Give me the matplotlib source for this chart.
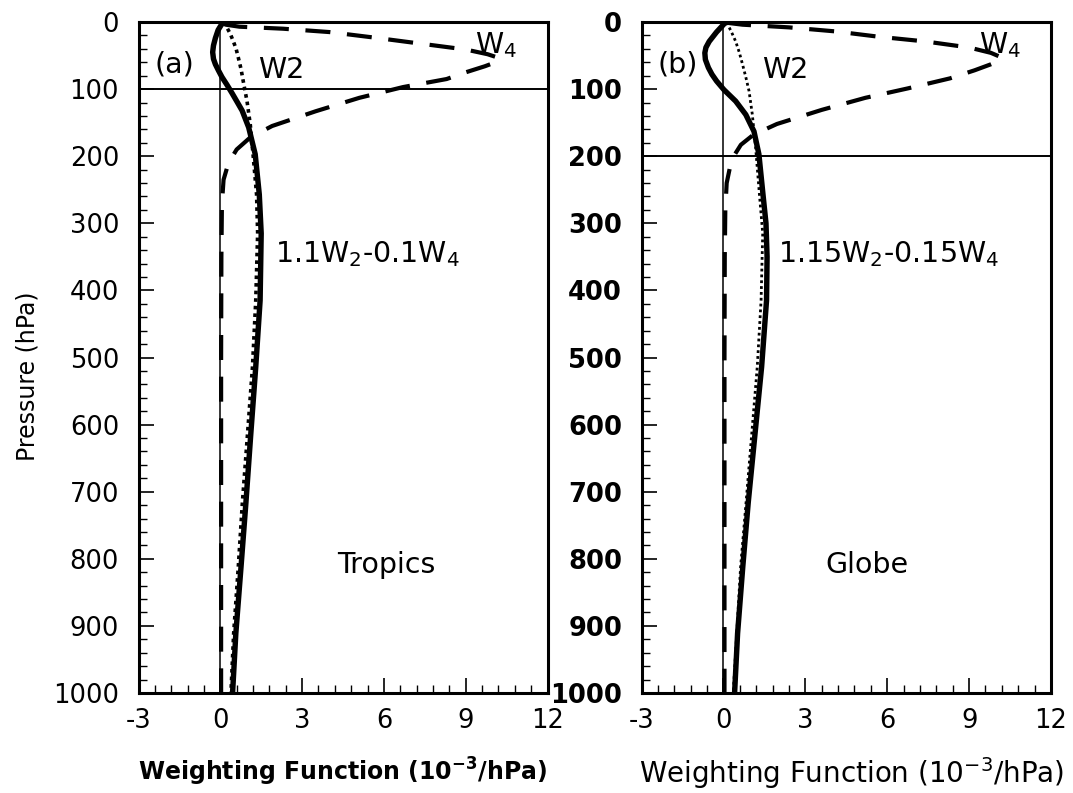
import matplotlib
matplotlib.use('Agg')
import matplotlib.pyplot as plt
from matplotlib.ticker import MultipleLocator

plt.rcParams['font.family'] = ['DejaVu Sans']
plt.rcParams['mathtext.fontset'] = 'dejavusans'
plt.rcParams['axes.unicode_minus'] = False

# ---- data (pressure in hPa, weight in 1e-3/hPa) ----
# W4 (dashed)
p_w4_a = [1, 4, 7, 10, 15, 23, 32, 41, 48, 54, 60, 66, 75, 85, 97, 113, 133, 155, 172, 190, 210, 235, 270, 350, 500, 700, 1000]
w4_a = [0.1, 0.2, 0.7, 2.3, 4.0, 5.6, 7.3, 9.0, 9.8, 10.25, 10.1, 9.7, 9.0, 8.3, 6.7, 5.1, 3.5, 1.9, 1.1, 0.6, 0.3, 0.12, 0.06, 0.04, 0.03, 0.03, 0.03]
p_w4_b = [1, 4, 8, 14, 22, 29, 38, 46, 53, 58, 63, 72, 84, 99, 113, 131, 152, 168, 183, 205, 240, 280, 350, 500, 700, 1000]
w4_b = [0.1, 0.7, 2.4, 4.1, 5.7, 7.4, 9.0, 9.8, 10.2, 10.1, 9.8, 9.2, 8.3, 6.75, 5.2, 3.6, 1.96, 1.1, 0.64, 0.3, 0.12, 0.07, 0.05, 0.04, 0.04, 0.04]

# W2 (dotted)
p_w2_a = [1, 3, 8, 18, 29, 40, 53, 70, 88, 118, 153, 197, 257, 315, 415, 514, 613, 716, 812, 911, 1000]
w2_a = [0.1, 0.15, 0.24, 0.37, 0.48, 0.58, 0.66, 0.76, 0.84, 0.98, 1.1, 1.2, 1.33, 1.37, 1.3, 1.18, 1.0, 0.81, 0.66, 0.49, 0.39]
p_w2_b = [1, 7, 18, 29, 45, 63, 82, 103, 138, 187, 257, 315, 415, 514, 613, 716, 812, 911, 1000]
w2_b = [0.1, 0.2, 0.33, 0.45, 0.58, 0.7, 0.82, 0.94, 1.06, 1.18, 1.32, 1.44, 1.38, 1.24, 1.04, 0.83, 0.63, 0.49, 0.36]

# combined channel (solid)
p_c_a = [1, 4, 12, 24, 35, 45, 55, 63, 72, 82, 94, 106, 120, 132, 157, 197, 257, 315, 415, 514, 613, 716, 812, 911, 1000]
c_a = [0.05, 0.04, -0.08, -0.18, -0.25, -0.28, -0.25, -0.18, -0.07, 0.06, 0.25, 0.43, 0.63, 0.8, 1.04, 1.28, 1.43, 1.5, 1.46, 1.3, 1.12, 0.94, 0.76, 0.57, 0.45]
p_c_b = [1, 4, 15, 29, 38, 46, 56, 68, 78, 88, 101, 118, 138, 163, 197, 257, 300, 350, 415, 514, 613, 716, 812, 911, 1000]
c_b = [0.05, 0.0, -0.25, -0.52, -0.64, -0.68, -0.66, -0.55, -0.42, -0.25, 0.02, 0.45, 0.82, 1.12, 1.3, 1.45, 1.56, 1.6, 1.58, 1.4, 1.16, 0.91, 0.71, 0.52, 0.41]

tropopause = [100, 200]
panel_tags = ['(a)', '(b)']
regions = ['Tropics', 'Globe']
region_x = [6.1, 5.25]
combo_labels = ['1.1W$_2$-0.1W$_4$', '1.15W$_2$-0.15W$_4$']
x_ticks = [-3, 0, 3, 6, 9, 12]
y_ticks = list(range(0, 1001, 100))

fig = plt.figure(figsize=(10.73, 7.93), dpi=100)
ax_a = fig.add_axes([138.5 / 1073, 1 - 693 / 793, 409 / 1073, 671 / 793])
ax_b = fig.add_axes([641.5 / 1073, 1 - 693 / 793, 409.5 / 1073, 671 / 793])

panels = [
    (ax_a, p_w4_a, w4_a, p_w2_a, w2_a, p_c_a, c_a, 2.6),
    (ax_b, p_w4_b, w4_b, p_w2_b, w2_b, p_c_b, c_b, 2.0),
]

for i, (ax, pw4, w4, pw2, w2, pc, c, dot_lw) in enumerate(panels):
    ax.axvline(0, color='black', lw=1.1, zorder=1)
    ax.axhline(tropopause[i], color='black', lw=1.4, zorder=1)
    ax.plot(w4, pw4, color='black', lw=3.0, ls=(0, (6, 4)), zorder=3)
    ax.plot(w2, pw2, color='black', lw=dot_lw, ls=(0, (1, 1.1)), zorder=3)
    ax.plot(c, pc, color='black', lw=3.9, solid_capstyle='round', zorder=4)

    ax.set_xlim(-3, 12)
    ax.set_ylim(1000, 0)
    ax.set_xticks(x_ticks)
    ax.set_yticks(y_ticks)
    ax.xaxis.set_minor_locator(MultipleLocator(0.6))
    ax.yaxis.set_minor_locator(MultipleLocator(20))
    ax.tick_params(which='both', direction='in', top=False, right=False, labelsize=18.5)
    ax.tick_params(which='major', length=10.5, width=1.2)
    ax.tick_params(which='minor', length=5.5, width=1.0)
    ax.tick_params(axis='y', pad=14)
    ax.tick_params(axis='x', pad=11)
    for s in ax.spines.values():
        s.set_linewidth(2.2)

    ax.text(-2.4, 64, panel_tags[i], fontsize=20.5, va='center', ha='left')
    ax.text(1.4, 72, 'W2', fontsize=20.5, va='center', ha='left')
    ax.text(9.35, 46, 'W$_4$', fontsize=20.5, va='baseline', ha='left')
    ax.text(2.0, 358, combo_labels[i], fontsize=20.5, va='baseline', ha='left')
    ax.text(region_x[i], 809, regions[i], fontsize=20.5, va='center', ha='center')

ax_a.set_ylabel('Pressure (hPa)', fontsize=17)
ax_a.yaxis.set_label_coords(-0.243, 0.472)
ax_a.set_xlabel('Weighting Function (10$^{\\mathbf{-3}}$/hPa)', fontsize=17.0, fontweight='bold')
ax_b.set_xlabel('Weighting Function (10$^{-3}$/hPa)', fontsize=20)
ax_a.xaxis.set_label_coords(0.5, -0.093)
ax_b.xaxis.set_label_coords(0.513, -0.093)
for lab in ax_b.get_yticklabels():
    lab.set_fontweight('bold')

fig.savefig('out.png', dpi=100)
